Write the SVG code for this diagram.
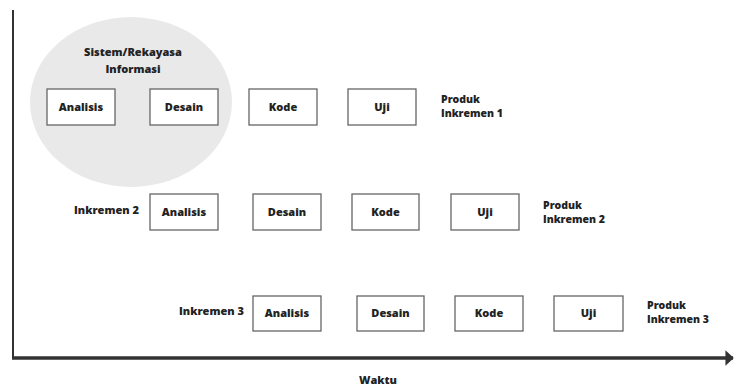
<svg xmlns="http://www.w3.org/2000/svg" width="734" height="388" viewBox="0 0 734 388">
<style>
text{font-family:"Open Sans","Noto Sans","Liberation Sans",sans-serif;font-weight:800;font-size:11px;fill:#222}
.p{font-size:10.5px}
.c{text-anchor:middle}
.box{fill:#fff;stroke:#666;stroke-width:1.3}
.axis{stroke:#333;fill:none}
</style>
<defs>
<marker id="ah" viewBox="0 0 10 10" refX="9" refY="5" markerWidth="2.4" markerHeight="4.4" orient="auto" markerUnits="strokeWidth" preserveAspectRatio="none">
<path d="M0,0 L10,5 L0,10 z" fill="#333"/>
</marker>
</defs>
<rect width="734" height="388" fill="#fff"/>
<g id="sistem">
<ellipse cx="131" cy="102" rx="101" ry="85" fill="#e9e9e9"/>
<text class="c" x="133" y="56">Sistem/Rekayasa</text>
<text class="c" x="133" y="73">Informasi</text>
</g>
<g id="analisis1"><rect class="box" x="47" y="89" width="68" height="36"/><text class="c" x="81" y="111">Analisis</text></g>
<g id="desain1"><rect class="box" x="150" y="89" width="68" height="36"/><text class="c" x="184" y="111">Desain</text></g>
<g id="kode1"><rect class="box" x="249" y="89" width="68" height="36"/><text class="c" x="283" y="111">Kode</text></g>
<g id="uji1"><rect class="box" x="348" y="89" width="68" height="36"/><text class="c" x="382" y="111">Uji</text></g>
<g id="produk1"><text class="p" x="441" y="102.5">Produk</text><text class="p" x="441" y="116.5">Inkremen 1</text></g>

<g id="inkremen2"><text x="74" y="214">Inkremen 2</text></g>
<g id="analisis2"><rect class="box" x="150" y="194" width="68" height="36"/><text class="c" x="184" y="216">Analisis</text></g>
<g id="desain2"><rect class="box" x="253" y="194" width="68" height="36"/><text class="c" x="287" y="216">Desain</text></g>
<g id="kode2"><rect class="box" x="352" y="194" width="67" height="36"/><text class="c" x="385.5" y="216">Kode</text></g>
<g id="uji2"><rect class="box" x="451" y="194" width="68" height="36"/><text class="c" x="485" y="216">Uji</text></g>
<g id="produk2"><text class="p" x="543" y="208.5">Produk</text><text class="p" x="543" y="222.5">Inkremen 2</text></g>

<g id="inkremen3"><text x="179" y="315">Inkremen 3</text></g>
<g id="analisis3"><rect class="box" x="253" y="296" width="68" height="35"/><text class="c" x="287" y="317">Analisis</text></g>
<g id="desain3"><rect class="box" x="357" y="296" width="67" height="35"/><text class="c" x="390.5" y="317">Desain</text></g>
<g id="kode3"><rect class="box" x="455" y="296" width="68" height="35"/><text class="c" x="489" y="317">Kode</text></g>
<g id="uji3"><rect class="box" x="554" y="296" width="69" height="35"/><text class="c" x="588.5" y="317">Uji</text></g>
<g id="produk3"><text class="p" x="647" y="308.5">Produk</text><text class="p" x="647" y="322.5">Inkremen 3</text></g>

<g id="connectors">
<line class="axis" x1="13" y1="10" x2="13" y2="359" stroke-width="2"/>
<line class="axis" x1="12" y1="358" x2="733" y2="358" stroke-width="3.5" marker-end="url(#ah)"/>
</g>
<g id="waktu"><text class="c" x="378" y="384">Waktu</text></g>
</svg>
